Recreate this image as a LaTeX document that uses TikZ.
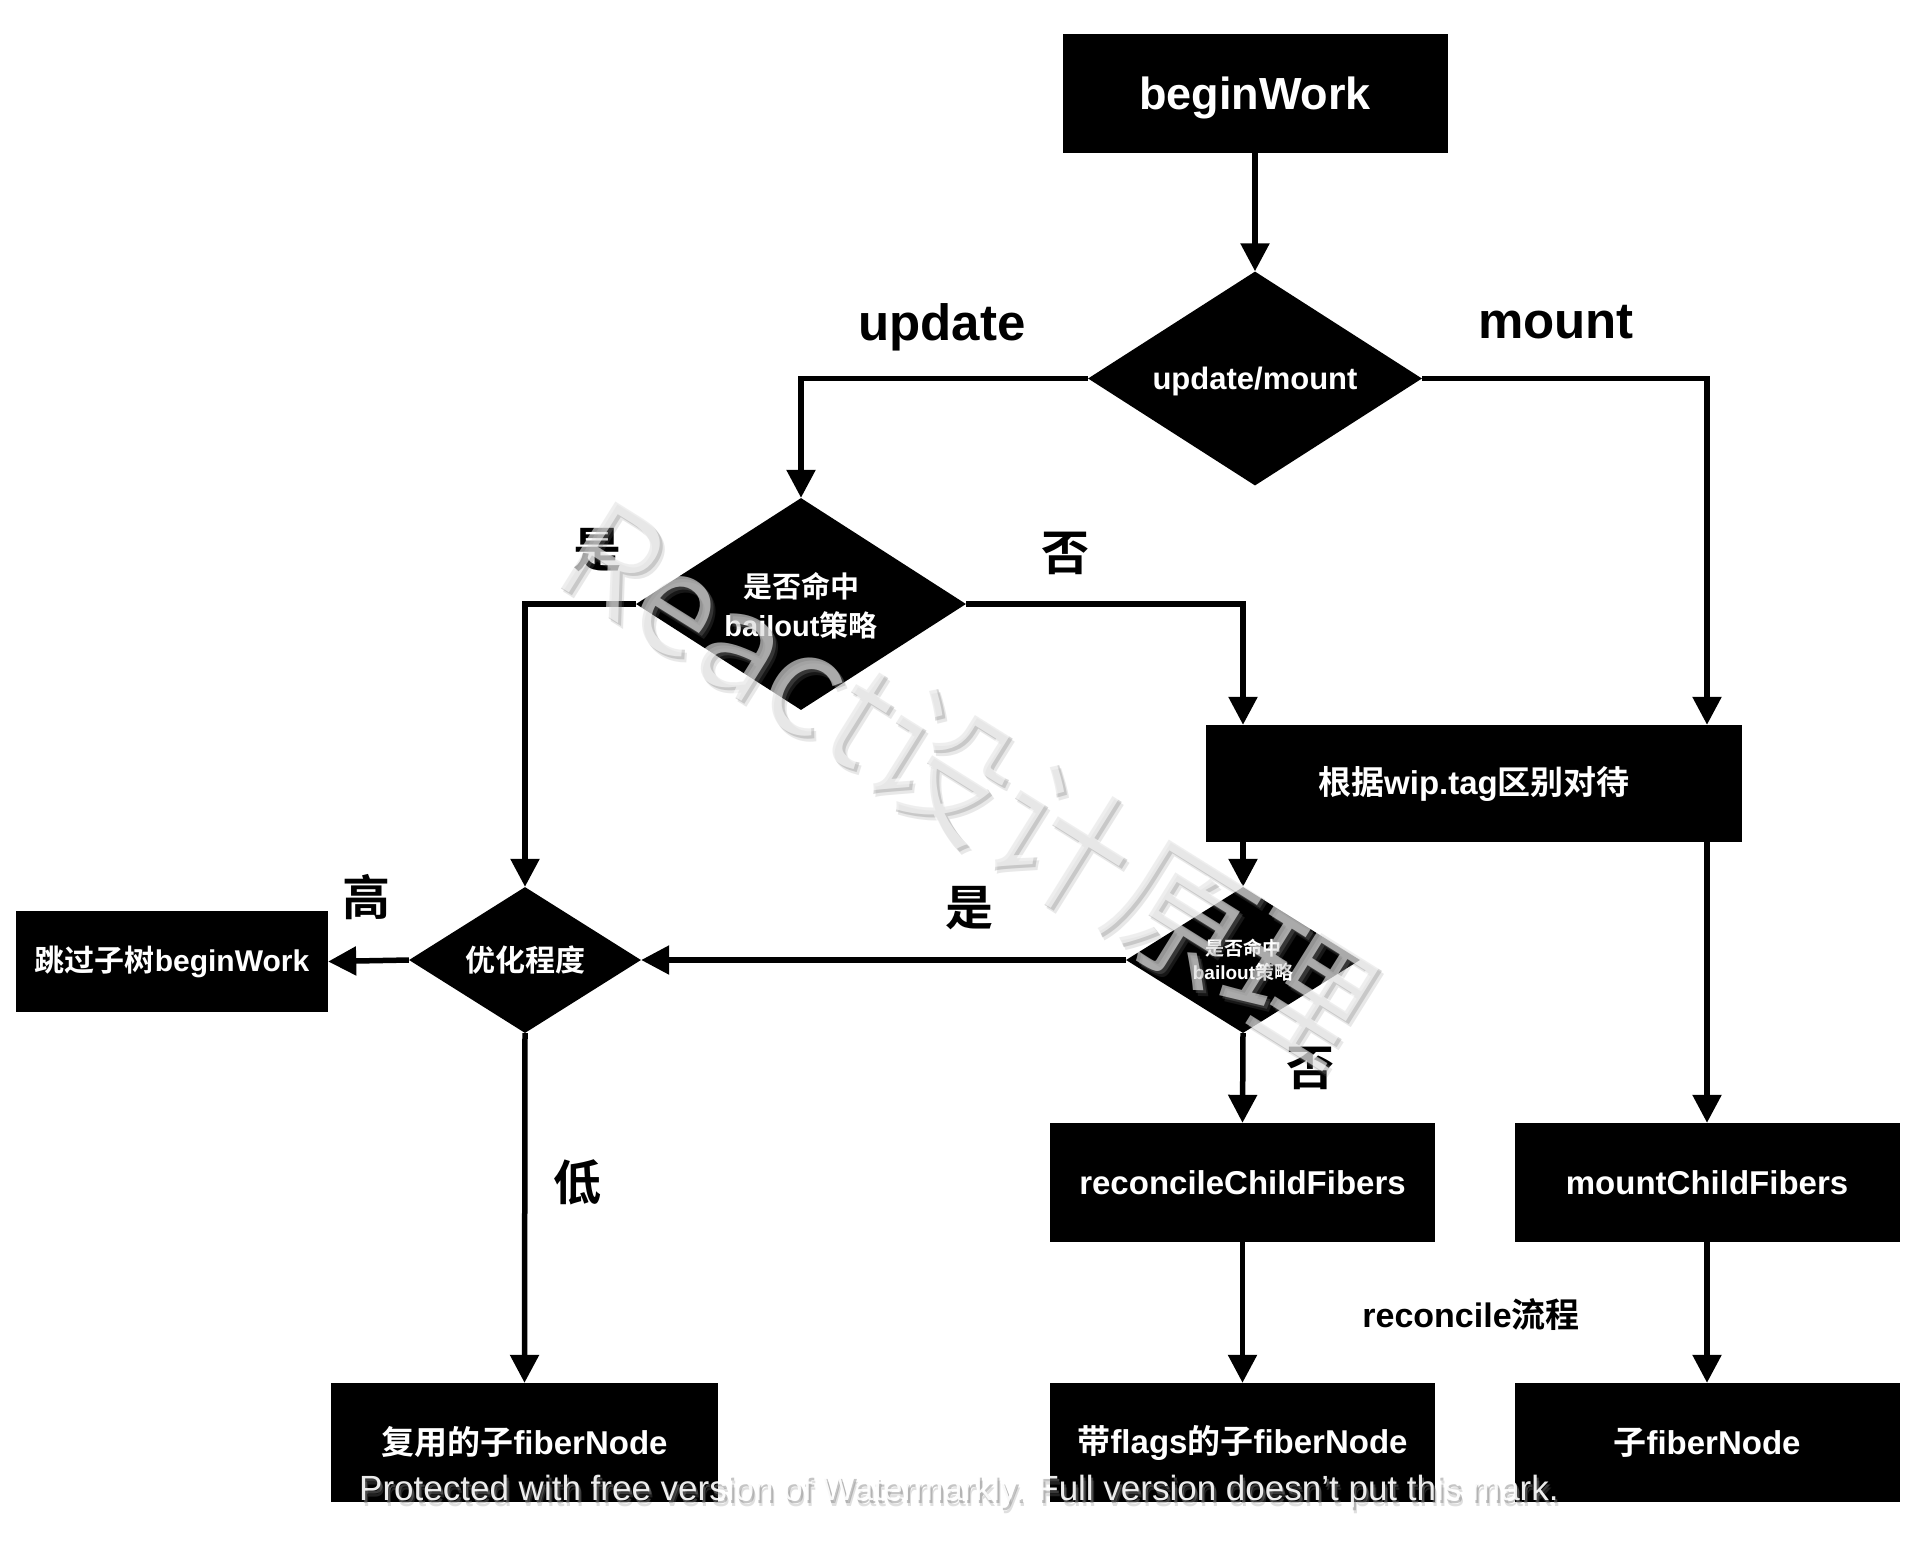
\documentclass[tikz,border=0pt]{standalone}
\usepackage{fontspec}
\setmainfont{Liberation Sans}
\newfontfamily\cjk{Noto Sans CJK SC}[BoldFont={Noto Sans CJK SC Bold}]
\usetikzlibrary{shapes.geometric,arrows.meta}
\newcommand\zh[1]{{\cjk #1}}
\newcommand\fsz[1]{\fontsize{#1}{#1}\selectfont}

\begin{document}
\begin{tikzpicture}[x=1pt,y=-1pt,
  box/.style={fill=black, text=white, inner sep=0pt, align=center,
    font=\fsz{33}\bfseries},
  dec/.style={shape=diamond, fill=black, text=white, inner sep=0pt,
    align=center, font=\fsz{30}\bfseries},
  lbl/.style={inner sep=0pt, font=\fsz{48}\bfseries},
  arr/.style={line width=5.5pt, -{Triangle[width=28pt,length=28pt]}},
  wm/.style={inner sep=0pt}]

\fill[white] (0,0) rectangle (1918,1548);
\useasboundingbox (0,0) rectangle (1918,1548);

% top of the flow
\node[box, minimum width=385pt, minimum height=119pt, font=\fsz{45}\bfseries,
  text depth=0pt] (bw) at (1255,93.5) {beginWork};
\node[dec, minimum width=334pt, minimum height=214pt, aspect=1.56,
  font=\fsz{31}\bfseries, text depth=0pt] (um) at (1255,378.5) {update/mount};
\node[lbl, font=\fsz{51}\bfseries, text depth=0pt] (lup) at (942,322) {update};
\node[lbl, font=\fsz{51}\bfseries] (lmo) at (1556,322) {mount};

% bailout check on update
\node[dec, minimum width=330pt, minimum height=212pt, aspect=1.56,
  font=\fsz{29}\bfseries, text depth=0pt]
  (b1) at (801,604) {\zh{是否命中}\\[10pt]bailout\zh{策略}};
\node[lbl] (lyes1) at (597,550) {\zh{是}};
\node[lbl] (lno1) at (1065,553) {\zh{否}};

\node[box, minimum width=536pt, minimum height=117pt] (gen) at (1474,783.5)
  {\zh{根据}wip.tag\zh{区别对待}};

% optimisation level
\node[dec, minimum width=232pt, minimum height=146pt, aspect=1.59]
  (opt) at (525,960) {\zh{优化程度}};
\node[lbl] (lhigh) at (366,897) {\zh{高}};
\node[box, minimum width=312pt, minimum height=101pt, font=\fsz{30}\bfseries]
  (skip) at (172,961.5) {\zh{跳过子树}beginWork};
\node[lbl] (llow) at (577,1182) {\zh{低}};

% second bailout check
\node[dec, minimum width=234pt, minimum height=146pt, aspect=1.6,
  font=\fsz{19}\bfseries]
  (b2) at (1243,960) {\zh{是否命中}\\[5pt]bailout\zh{策略}};
\node[lbl] (lyes2) at (969,908) {\zh{是}};
\node[lbl] (lno2) at (1310,1068) {\zh{否}};

% child fiber creation
\node[box, minimum width=385pt, minimum height=119pt] (rc) at (1242.5,1182.5)
  {reconcileChildFibers};
\node[box, minimum width=385pt, minimum height=119pt] (mc) at (1707,1182.5)
  {mountChildFibers};
\node[lbl, font=\fsz{34}\bfseries] (lrec) at (1471,1315)
  {reconcile\zh{流程}};

\node[box, minimum width=387pt, minimum height=119pt] (reuse) at (524.5,1442.5)
  {\zh{复用的子}fiberNode};
\node[box, minimum width=385pt, minimum height=119pt] (flags) at (1242.5,1442.5)
  {\zh{带}flags\zh{的子}fiberNode};
\node[box, minimum width=385pt, minimum height=119pt] (child) at (1707,1442.5)
  {\zh{子}fiberNode};

% connectors
\draw[arr] (bw) -- (um);
\draw[arr] (um.west) -| (b1.north);
\draw[arr] (um.east) -| (mc.north |- gen.north);
\draw[arr] (b1.west) -| (opt.north);
\draw[arr] (b1.east) -| (b2.north |- gen.north);
\draw[arr] (gen.south -| b2.north) -- (b2.north);
\draw[arr] (gen.south -| mc.north) -- (mc.north);
\draw[arr] (b2.west) -- (opt.east);
\draw[arr] (opt.west) -- (skip.east);
\draw[arr] (opt.south) -- (reuse.north);
\draw[arr] (b2.south) -- (rc.north);
\draw[arr] (rc.south) -- (flags.north);
\draw[arr] (mc.south) -- (child.north);

% watermarks: soft grey shadow under translucent white lettering
\node[wm, rotate=-32, text=gray, opacity=0.18, font=\fsz{140}]
  (wmshadowb) at (971,785) {\zh{React设计原理}};
\node[wm, rotate=-32, text=gray, opacity=0.3, font=\fsz{140}]
  (wmshadow) at (969,782) {\zh{React设计原理}};
\node[wm, rotate=-32, text=white, opacity=0.58, font=\fsz{140}]
  (wmtext) at (966,779) {\zh{React设计原理}};
\node[wm, text=gray, opacity=0.25, font=\fsz{35}]
  (wmlshadowb) at (962,1497) {Protected with free version of Watermarkly. Full version doesn't put this mark.};
\node[wm, text=gray, opacity=0.45, font=\fsz{35}]
  (wmlshadow) at (961,1494) {Protected with free version of Watermarkly. Full version doesn't put this mark.};
\node[wm, text=white, opacity=0.92, font=\fsz{35}]
  (wmltext) at (959,1491) {Protected with free version of Watermarkly. Full version doesn't put this mark.};
\end{tikzpicture}
\end{document}
